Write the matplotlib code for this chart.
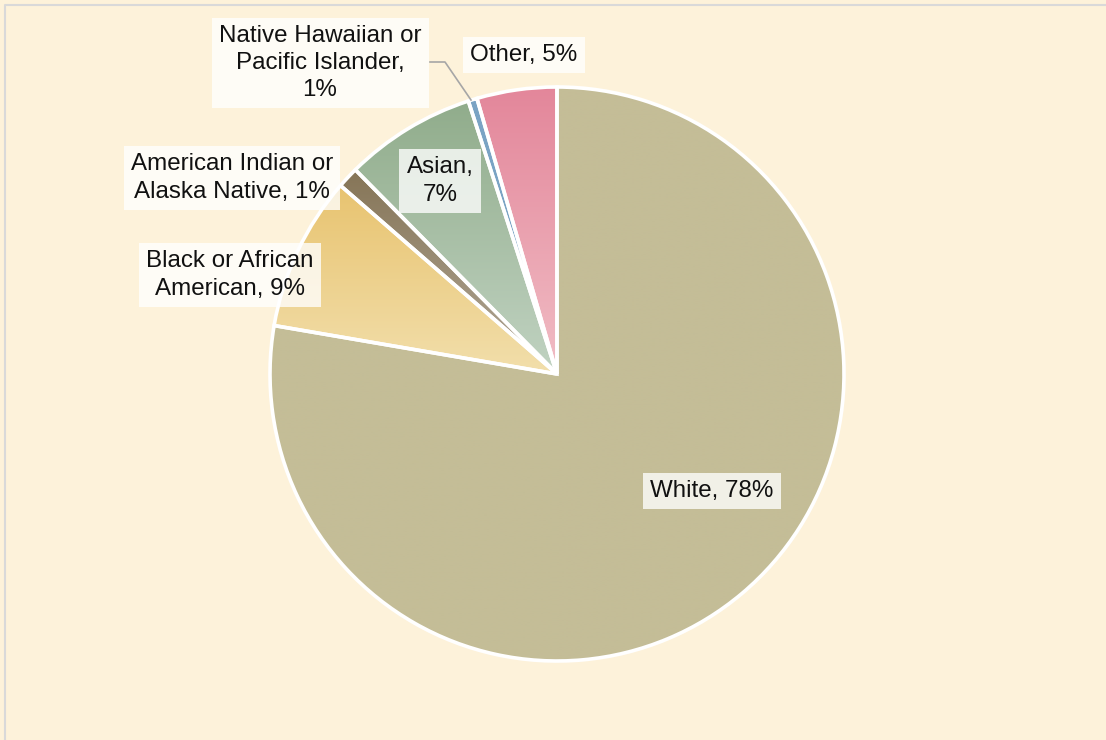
import numpy as np
import matplotlib
matplotlib.use("Agg")
import matplotlib.pyplot as plt
from matplotlib.colors import LinearSegmentedColormap

categories = ["White", "Black or African\nAmerican", "American Indian or\nAlaska Native",
              "Asian,", "Native Hawaiian or\nPacific Islander,", "Other"]
values = [77.7, 8.7, 1.2, 7.4, 0.5, 4.5]
label_fmt = ["{c}, {p}%", "{c}, {p}%", "{c}, {p}%", "{c}\n{p}%", "{c}\n{p}%", "{c}, {p}%"]
top_colors = ["#C4BD97", "#E8C36F", "#857456", "#90AC8B", "#7AA3C4", "#E3869A"]
bot_colors = ["#C4BD97", "#F2DFAC", "#B3AA9A", "#C1D3C2", "#7AA3C4", "#F1BDC5"]
label_pos = [(712, 491), (230, 275), (232, 178), (440, 181), (320, 63), (524, 55)]

W, H = 1106, 740
fig = plt.figure(figsize=(W / 100, H / 100), dpi=100)
fig.patch.set_facecolor("#FDF2DA")
ax = fig.add_axes([0, 0, 1, 1])

cx, cy, R = 557, 374, 287
wedges, _ = ax.pie(values, center=(cx, cy), radius=R, startangle=-90, counterclock=True,
                   frame=True, wedgeprops=dict(linewidth=2.6, edgecolor="white"))
ax.set_xlim(0, W)
ax.set_ylim(H, 0)
ax.set_aspect("equal")
ax.axis("off")

# outer border
ax.plot([5, 5, W + 5], [H + 5, 5, 5], color="#D9D9D9", lw=1.5, zorder=1)

grad = np.linspace(0, 1, 256).reshape(-1, 1)
for w, c1, c2 in zip(wedges, top_colors, bot_colors):
    verts = w.get_path().vertices
    x0, x1 = verts[:, 0].min() - 2, verts[:, 0].max() + 2
    y0, y1 = verts[:, 1].min() - 2, verts[:, 1].max() + 2
    w.set_facecolor("none")
    w.set_zorder(3)
    cmap = LinearSegmentedColormap.from_list("g", [c1, c2])
    im = ax.imshow(grad, cmap=cmap, extent=(x0, x1, y1, y0),
                   origin="upper", aspect="auto", zorder=2, interpolation="bilinear")
    im.set_clip_path(w)

ax.set_xlim(0, W)
ax.set_ylim(H, 0)

for cat, v, fmt, (lx, ly) in zip(categories, values, label_fmt, label_pos):
    p = int(np.floor(v + 0.5))
    txt = fmt.format(c=cat, p=p)
    ax.text(lx, ly, txt, ha="center", va="center", fontsize=17.4, family="Liberation Sans",
            color="#111111", linespacing=1.3, zorder=5,
            bbox=dict(boxstyle="square,pad=0.3", facecolor="white", alpha=0.78, edgecolor="none"))

# leader line for Native Hawaiian
ax.plot([430, 445, 471], [62, 62, 100], color="#A6A6A6", lw=1.2, zorder=4)

fig.savefig("out.png", dpi=100, facecolor=fig.get_facecolor())
